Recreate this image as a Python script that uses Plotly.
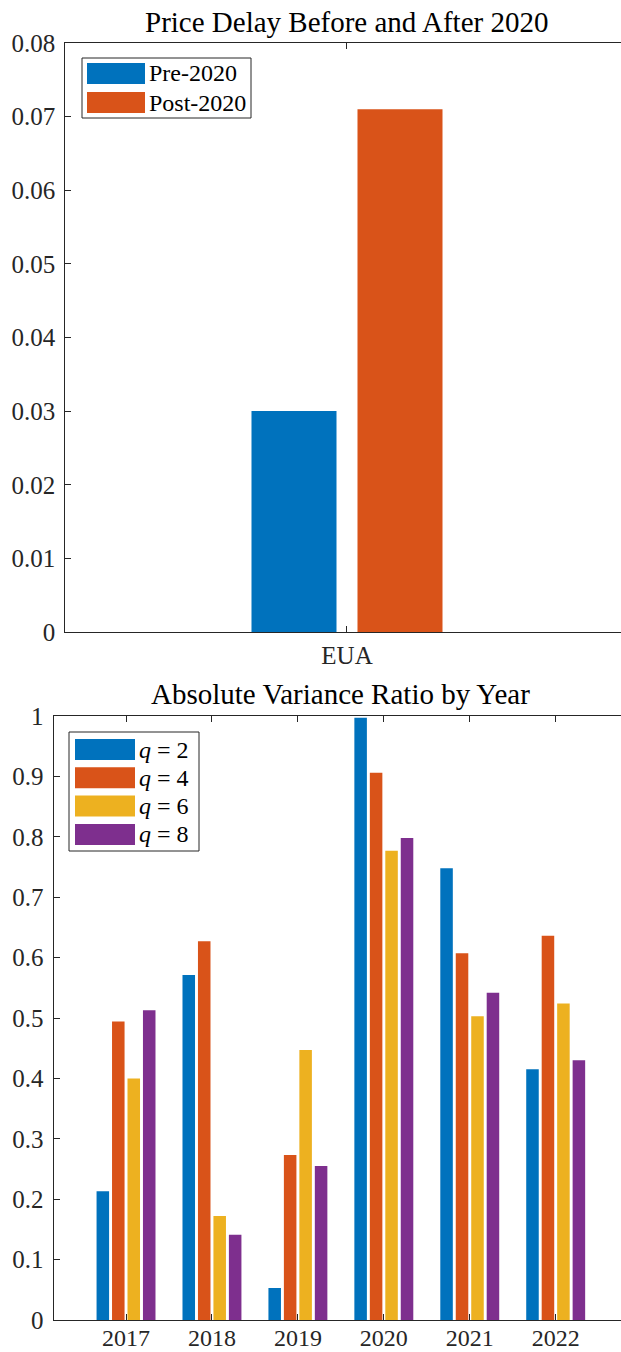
import plotly.graph_objects as go

# ---------------- data ----------------
top_categories = ["EUA"]
top_series = ["Pre-2020", "Post-2020"]
pre_2020 = [0.0300]
post_2020 = [0.0710]

years = ["2017", "2018", "2019", "2020", "2021", "2022"]
q_labels = ["<i>q</i> = 2", "<i>q</i> = 4", "<i>q</i> = 6", "<i>q</i> = 8"]
q2 = [0.213, 0.571, 0.053, 0.997, 0.748, 0.415]
q4 = [0.494, 0.627, 0.273, 0.906, 0.607, 0.636]
q6 = [0.400, 0.172, 0.447, 0.777, 0.503, 0.524]
q8 = [0.513, 0.141, 0.255, 0.798, 0.542, 0.430]

top_yticks = [0, 0.01, 0.02, 0.03, 0.04, 0.05, 0.06, 0.07, 0.08]
bot_yticks = [0, 0.1, 0.2, 0.3, 0.4, 0.5, 0.6, 0.7, 0.8, 0.9, 1]

# ---------------- style ----------------
W, H = 621, 1352
COLORS = ["#0072BD", "#D95319", "#EDB120", "#7E2F8E"]
AX = "#262626"
FONT = "Liberation Serif"


def px(x):
    return x / W


def py(y):
    return 1 - y / H


fig = go.Figure()

fig.add_trace(go.Bar(x=top_categories, y=pre_2020, name=top_series[0],
                     marker=dict(color=COLORS[0], line=dict(width=0)),
                     xaxis="x", yaxis="y", showlegend=False))
fig.add_trace(go.Bar(x=top_categories, y=post_2020, name=top_series[1],
                     marker=dict(color=COLORS[1], line=dict(width=0)),
                     xaxis="x", yaxis="y", showlegend=False))

for vals, lab, col in zip([q2, q4, q6, q8], q_labels, COLORS):
    fig.add_trace(go.Bar(x=years, y=vals, name=lab,
                         marker=dict(color=col, line=dict(width=0)),
                         xaxis="x2", yaxis="y2", showlegend=False))

common_axis = dict(showline=True, linecolor=AX, linewidth=1, ticks="inside",
                   ticklen=6, tickcolor=AX, tickwidth=1, showgrid=False,
                   zeroline=False, automargin=False,
                   tickfont=dict(family=FONT, size=25, color=AX))

fig.update_layout(
    width=W, height=H,
    margin=dict(l=0, r=0, t=0, b=0),
    paper_bgcolor="white", plot_bgcolor="white",
    barmode="group",
    showlegend=False,
    xaxis=dict(common_axis, type="category", domain=[px(65.3), 1],
               range=[-1.063, 1.034], mirror="ticks", anchor="y",
               ticklabelstandoff=1),
    yaxis=dict(common_axis, domain=[py(632), py(43)], range=[0, 0.08],
               tickvals=top_yticks, anchor="x", ticklabelstandoff=4),
    xaxis2=dict(common_axis, type="category", domain=[px(53.5), 1],
                range=[-0.844, 5.76], mirror="ticks", anchor="y2",
                ticklabelstandoff=-4, tickfont=dict(family=FONT, size=24, color=AX)),
    yaxis2=dict(common_axis, domain=[py(1320), py(716)], range=[0, 1],
                tickvals=bot_yticks, anchor="x2", ticklabelstandoff=4),
)

fig.update_layout(bargap=0.2, bargroupgap=0.198)
# bottom subplot uses different group geometry: set per-trace width/offset
slot = 0.72 / 4
for i, tr in enumerate(fig.data[2:]):
    tr.width = slot * 0.81
    tr.offset = -0.36 + i * slot + slot * 0.095

annotations = []
shapes = []

annotations.append(dict(text="Price Delay Before and After 2020", x=px(346.5), y=py(22),
                        xref="paper", yref="paper", xanchor="center", yanchor="middle",
                        showarrow=False, font=dict(family=FONT, size=29, color="black")))
annotations.append(dict(text="Absolute Variance Ratio by Year", x=px(340.6), y=py(694),
                        xref="paper", yref="paper", xanchor="center", yanchor="middle",
                        showarrow=False, font=dict(family=FONT, size=29, color="black")))


def legend(box, patch_x, row_centers, patch_h, text_x, labels, cols):
    x0, y0, x1, y1 = box
    shapes.append(dict(type="rect", xref="paper", yref="paper",
                       x0=px(x0), x1=px(x1), y0=py(y1), y1=py(y0),
                       line=dict(color=AX, width=1), fillcolor="white", layer="above"))
    for yc, lab, col in zip(row_centers, labels, cols):
        shapes.append(dict(type="rect", xref="paper", yref="paper",
                           x0=px(patch_x[0]), x1=px(patch_x[1]),
                           y0=py(yc + patch_h / 2), y1=py(yc - patch_h / 2),
                           line=dict(width=0), fillcolor=col, layer="above"))
        annotations.append(dict(text=lab, x=px(text_x), y=py(yc), xref="paper", yref="paper",
                                xanchor="left", yanchor="middle", showarrow=False,
                                font=dict(family=FONT, size=24, color="black")))


legend((82, 58, 251, 118), (87, 145), [73.5, 102.5], 21, 147, top_series, COLORS[:2])
legend((69, 732, 199, 851), (75, 135), [749.5, 777.8, 806.1, 834.4], 21, 137, q_labels, COLORS)

fig.update_layout(annotations=annotations, shapes=shapes)

fig.write_html("out.html",
               config={"displayModeBar": False, "staticPlot": True},
               post_script="document.body.style.margin='0px';document.body.style.overflow='hidden';")
